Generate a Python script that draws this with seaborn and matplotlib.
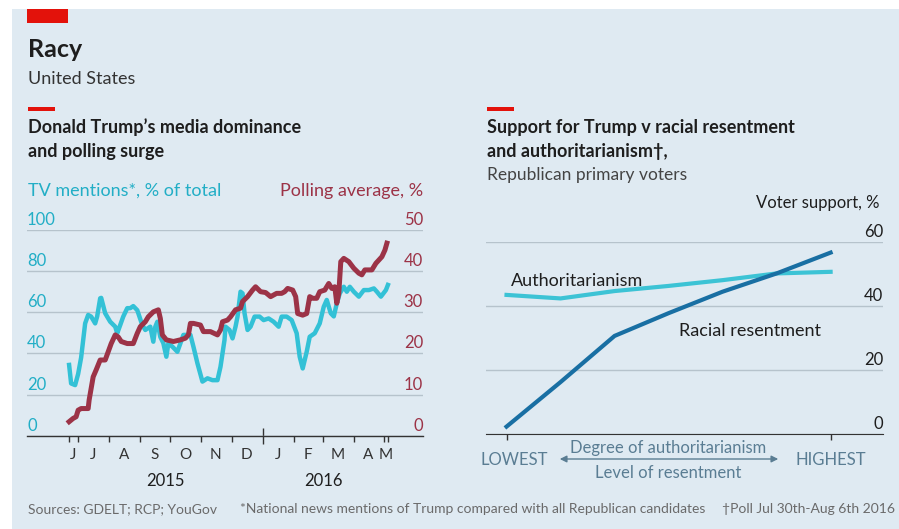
import pandas as pd
import numpy as np
import matplotlib
matplotlib.use('Agg')
import matplotlib.pyplot as plt
import matplotlib.transforms as mtransforms
from matplotlib.patches import Rectangle
import seaborn as sns

# left chart: TV mentions (% of total) and polling average (%)
tv_dates = ["2015-06-22","2015-06-24","2015-06-28","2015-07-01","2015-07-04","2015-07-08","2015-07-11",
            "2015-07-14","2015-07-18","2015-07-20","2015-07-23","2015-07-24","2015-07-28","2015-08-02",
            "2015-08-07","2015-08-09","2015-08-12","2015-08-15","2015-08-19","2015-08-22","2015-08-25",
            "2015-08-29","2015-09-03","2015-09-06","2015-09-11","2015-09-14","2015-09-16","2015-09-18",
            "2015-09-21","2015-09-24","2015-09-27","2015-09-29","2015-10-03","2015-10-08","2015-10-11",
            "2015-10-14","2015-10-21","2015-10-24","2015-10-28","2015-11-02","2015-11-07","2015-11-12",
            "2015-11-17","2015-11-20","2015-11-24","2015-11-25","2015-11-29","2015-12-02","2015-12-05",
            "2015-12-07","2015-12-10","2015-12-12","2015-12-14","2015-12-17","2015-12-20","2015-12-24",
            "2015-12-29","2016-01-02","2016-01-07","2016-01-12","2016-01-17","2016-01-20","2016-01-25",
            "2016-01-30","2016-02-04","2016-02-07","2016-02-10","2016-02-14","2016-02-17","2016-02-22",
            "2016-02-27","2016-03-02","2016-03-05","2016-03-09","2016-03-12","2016-03-15","2016-03-18",
            "2016-03-22","2016-03-25","2016-03-28","2016-04-01","2016-04-06","2016-04-11","2016-04-16",
            "2016-04-21","2016-04-24","2016-04-28","2016-05-03","2016-05-05"]
tv_share = [34.4,25.4,24.6,30,38,54.6,58.7,57.9,54.6,58,66.8,67,59.5,55.4,53,49.8,53.8,57.9,62,62,63,
            61,53.8,51.4,53,45.7,53,55.4,48,45,38.4,44.9,43.3,40.8,44.9,49,49,43.3,35.2,26.3,27.9,27,
            27,33.5,46.5,53,51.4,47.3,53,57.9,70,69.2,59.5,51.4,53,57.9,57.9,56.2,57,55.4,53,57.9,57.9,
            56.2,49.8,38.4,32.7,40.8,48.1,49.8,54.6,62.7,66,59.5,58,64.3,69.2,72.4,70,72.4,70,67.6,70.8,
            70.8,71.6,70,67.6,70.8,73.3]

poll_dates = ["2015-06-22","2015-06-26","2015-06-29","2015-07-01","2015-07-04","2015-07-11","2015-07-12",
              "2015-07-16","2015-07-19","2015-07-23","2015-07-28","2015-07-31","2015-08-03","2015-08-07",
              "2015-08-10","2015-08-13","2015-08-19","2015-08-25","2015-08-29","2015-09-01","2015-09-06",
              "2015-09-09","2015-09-14","2015-09-19","2015-09-21","2015-09-23","2015-09-27","2015-10-04",
              "2015-10-11","2015-10-16","2015-10-19","2015-10-21","2015-10-24","2015-10-31","2015-11-03",
              "2015-11-10","2015-11-17","2015-11-20","2015-11-22","2015-11-27","2015-11-30","2015-12-05",
              "2015-12-10","2015-12-12","2015-12-17","2015-12-22","2015-12-25","2015-12-30","2016-01-04",
              "2016-01-09","2016-01-15","2016-01-20","2016-01-23","2016-01-26","2016-01-31","2016-02-03",
              "2016-02-05","2016-02-10","2016-02-14","2016-02-17","2016-02-20","2016-02-24","2016-02-27",
              "2016-03-03","2016-03-07","2016-03-10","2016-03-13","2016-03-15","2016-03-17","2016-03-19",
              "2016-03-22","2016-03-27","2016-04-01","2016-04-06","2016-04-09","2016-04-12","2016-04-19",
              "2016-04-23","2016-04-26","2016-04-29","2016-05-02","2016-05-04"]
poll_avg = [3.4,4.2,4.6,6.2,6.6,6.6,8.7,14.3,16,18.4,18.4,20.4,22.4,24.5,24,22.9,22.4,22.4,24.9,26.5,
            27.7,28.9,30.1,30.6,28.5,24.5,23.3,22.9,23.3,23.7,24.5,27.3,27.3,26.9,25.3,25.3,24.5,25.7,
            27.7,28.1,28.9,30.6,31,32.6,33.8,35.4,36.2,35,34.8,33.8,34.6,34.6,35,35.8,35.4,33.8,29.7,
            29.3,29.7,33.8,33.4,33.4,35,35.4,37,35.8,36.2,32.2,34.6,42.3,43.1,42.3,40.7,39.5,39.1,40.3,
            40.3,41.9,42.7,43.5,45.1,46.8]

month_letters = ["J", "J", "A", "S", "O", "N", "D", "J", "F", "M", "A", "M"]
month_label_dates = ["2015-06-26","2015-07-16","2015-08-16","2015-09-15","2015-10-16","2015-11-15",
                     "2015-12-16","2016-01-16","2016-02-15","2016-03-16","2016-04-15","2016-05-03"]
month_tick_dates = ["2015-06-22","2015-07-01","2015-08-01","2015-09-01","2015-10-01","2015-11-01",
                    "2015-12-01","2016-02-01","2016-03-01","2016-04-01","2016-05-01","2016-05-05"]
tv_ticks = [0, 20, 40, 60, 80, 100]
poll_ticks = [0, 10, 20, 30, 40, 50]

# right chart: voter support by level (0 = lowest, 6 = highest)
levels = [0, 1, 2, 3, 4, 5, 6]
authoritarianism = [43.4, 42.3, 44.6, 46.2, 48.0, 50.1, 50.6]
racial_resentment = [2.3, 16.2, 30.6, 37.7, 44.4, 50.1, 56.6]
support_ticks = [0, 20, 40, 60]

BG = "#dfeaf2"
CYAN = "#33c1d6"
MAROON = "#9c3347"
DARKBLUE = "#196fa3"
GRID = "#b6c3cc"
TXT = "#1e1e1e"
AXTXT = "#5a7d93"

W, H = 899, 529
fx = lambda px: px / W
fy = lambda py: 1 - py / H

plt.rcParams['font.family'] = ['Lato', 'DejaVu Sans']
fig = plt.figure(figsize=(W / 100, H / 100), dpi=100)
fig.patch.set_facecolor("white")
fig.patches.append(Rectangle((fx(12), 0), 1 - fx(12), fy(9), transform=fig.transFigure,
                             facecolor=BG, edgecolor="none", zorder=-10))
fig.patches.append(Rectangle((fx(27), fy(23)), fx(41), 14 / H, transform=fig.transFigure,
                             facecolor="#e3120b", edgecolor="none"))
for x0 in (28, 487):
    fig.patches.append(Rectangle((fx(x0), fy(110.5)), fx(27), 3 / H, transform=fig.transFigure,
                                 facecolor="#e3120b", edgecolor="none"))

fig.text(fx(28), fy(57), "Racy", fontsize=18, fontweight="bold", color=TXT, va="baseline")
fig.text(fx(28), fy(84), "United States", fontsize=13, color="#333333", va="baseline")
fig.text(fx(28), fy(133), "Donald Trump\u2019s media dominance", fontsize=13, fontweight="bold",
         color=TXT, va="baseline")
fig.text(fx(28), fy(157), "and polling surge", fontsize=13, fontweight="bold", color=TXT, va="baseline")
fig.text(fx(28), fy(196), "TV mentions*, % of total", fontsize=13, color="#22aec6", va="baseline")
fig.text(fx(423), fy(196), "Polling average, %", fontsize=13, color=MAROON, va="baseline", ha="right")

fig.text(fx(487), fy(133), "Support for Trump v racial resentment", fontsize=13, fontweight="bold",
         color=TXT, va="baseline")
fig.text(fx(487), fy(157), "and authoritarianism\u2020,", fontsize=13, fontweight="bold", color=TXT,
         va="baseline")
fig.text(fx(487), fy(180), "Republican primary voters", fontsize=12.5, color="#444444", va="baseline")
fig.text(fx(879), fy(208), "Voter support, %", fontsize=12, color=TXT, va="baseline", ha="right")

fig.text(fx(28), fy(513), "Sources: GDELT; RCP; YouGov", fontsize=10, color="#6a6a6a", va="baseline")
fig.text(fx(240), fy(513), "*National news mentions of Trump compared with all Republican candidates",
         fontsize=10, color="#6a6a6a", va="baseline")
fig.text(fx(895), fy(513), "\u2020Poll Jul 30th-Aug 6th 2016", fontsize=10, color="#6a6a6a",
         va="baseline", ha="right")

# ---- left chart ----
ax = fig.add_axes([fx(27), fy(435.7), fx(396), 205.7 / H])
ax.set_facecolor("none")
sns.lineplot(x=pd.to_datetime(tv_dates), y=tv_share, ax=ax, color=CYAN, linewidth=3.2,
             estimator=None, solid_joinstyle="round")
ax.set_ylim(0, 100)
ax.set_xlim(pd.Timestamp("2015-05-11"), pd.Timestamp("2016-06-09"))
ax.set_yticks(tv_ticks)
ax.yaxis.grid(True, color=GRID, linewidth=1)
ax.xaxis.grid(False)
ax.tick_params(axis="y", length=0, labelleft=False)
for s in ["top", "left", "right"]:
    ax.spines[s].set_visible(False)
ax.spines["bottom"].set_color("#333333")
ax.spines["bottom"].set_linewidth(1)
ax.set_xticks([pd.Timestamp("2016-01-01")])
ax.set_xticks(pd.to_datetime(month_tick_dates), minor=True)
ax.tick_params(axis="x", which="major", length=11, direction="inout", width=1, color="#333333",
               labelbottom=False)
ax.tick_params(axis="x", which="minor", length=4, direction="out", width=1, color="#333333",
               labelbottom=False)
ax.set_xlabel("")
ax.set_ylabel("")

ax2 = ax.twinx()
sns.lineplot(x=pd.to_datetime(poll_dates), y=poll_avg, ax=ax2, color=MAROON, linewidth=3.6,
             estimator=None, solid_joinstyle="round")
ax2.set_ylim(0, 50)
ax2.set_xlim(ax.get_xlim())
ax2.set_yticks([])
ax2.set_ylabel("")
for s in ax2.spines.values():
    s.set_visible(False)

up = mtransforms.offset_copy(ax.get_yaxis_transform(), fig=fig, y=5, units="dots")
for v in tv_ticks:
    ax.text(0, v, str(v), transform=up, fontsize=12, color="#22aec6", ha="left", va="baseline")
up2 = mtransforms.offset_copy(ax2.get_yaxis_transform(), fig=fig, y=5, units="dots")
for v in poll_ticks:
    ax2.text(1, v, str(v), transform=up2, fontsize=12, color=MAROON, ha="right", va="baseline")

mt = mtransforms.blended_transform_factory(ax.transData, fig.transFigure)
for lab, d in zip(month_letters, month_label_dates):
    ax.text(pd.Timestamp(d), fy(459), lab, transform=mt, fontsize=11, color="#333333",
            ha="center", va="baseline")
ax.text(pd.Timestamp("2015-09-26"), fy(486), "2015", transform=mt, fontsize=12, color=TXT,
        ha="center", va="baseline")
ax.text(pd.Timestamp("2016-03-02"), fy(486), "2016", transform=mt, fontsize=12, color=TXT,
        ha="center", va="baseline")

# ---- right chart ----
axr = fig.add_axes([fx(486), fy(434), fx(397), 192.3 / H])
axr.set_facecolor("none")
df = pd.DataFrame({
    "level": levels + levels,
    "support": authoritarianism + racial_resentment,
    "measure": ["Authoritarianism"] * len(levels) + ["Racial resentment"] * len(levels),
})
sns.lineplot(data=df, x="level", y="support", hue="measure", ax=axr, linewidth=3, legend=False,
             palette={"Authoritarianism": "#3cc3d5", "Racial resentment": DARKBLUE}, estimator=None)
axr.set_xlim(-0.38, 6.97)
axr.set_ylim(0, 60)
axr.set_yticks(support_ticks)
axr.yaxis.grid(True, color=GRID, linewidth=1)
axr.xaxis.grid(False)
axr.tick_params(axis="y", length=0, labelleft=False)
axr.set_xticks([0, 6])
axr.tick_params(axis="x", length=4, width=1, color="#333333", labelbottom=False)
for s in ["top", "left", "right"]:
    axr.spines[s].set_visible(False)
axr.spines["bottom"].set_color("#333333")
axr.set_xlabel("")
axr.set_ylabel("")
upr = mtransforms.offset_copy(axr.get_yaxis_transform(), fig=fig, y=5, units="dots")
for v in support_ticks:
    axr.text(1, v, str(v), transform=upr, fontsize=12, color=TXT, ha="right", va="baseline")

axr.text(0.08, 47.8, "Authoritarianism", fontsize=13, color=TXT, va="center")
axr.text(3.2, 32, "Racial resentment", fontsize=13, color=TXT, va="center")

rt = mtransforms.blended_transform_factory(axr.transData, fig.transFigure)
axr.text(0.15, fy(465), "LOWEST", transform=rt, fontsize=12, color=AXTXT, ha="center", va="baseline")
axr.text(6, fy(465), "HIGHEST", transform=rt, fontsize=12, color=AXTXT, ha="center", va="baseline")
axr.text(3, fy(453), "Degree of authoritarianism", transform=rt, fontsize=12, color=AXTXT,
         ha="center", va="baseline")
axr.text(3, fy(478), "Level of resentment", transform=rt, fontsize=12, color=AXTXT,
         ha="center", va="baseline")
axr.annotate("", xy=(fx(781), fy(459)), xytext=(fx(557), fy(459)), xycoords="figure fraction",
             textcoords="figure fraction",
             arrowprops=dict(arrowstyle="<|-|>", color=AXTXT, lw=1, mutation_scale=10))

fig.savefig("out.png", dpi=100, facecolor=fig.get_facecolor())
